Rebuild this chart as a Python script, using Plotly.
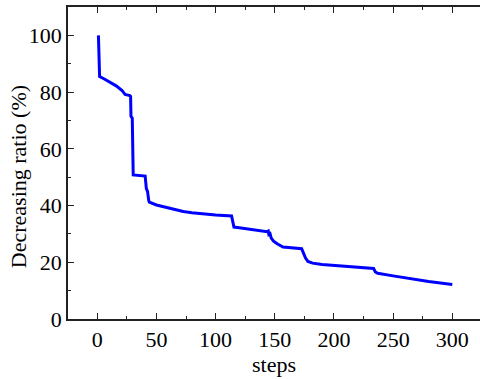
import plotly.graph_objects as go

steps = [1, 2, 6, 11, 16, 21, 23.5, 27.5, 28.2, 28.5, 29.6, 30.4, 35, 40.5, 41.5, 42.5, 43.5,
         44, 50, 60, 72.7, 80, 90, 100, 113.5, 114.5, 115.5, 120, 130, 140, 143.5, 144.5, 145,
         146, 147, 149, 152, 157, 165, 172.7, 174, 176, 178, 182, 190, 200, 208, 220, 232,
         233.5, 235, 237, 250, 264, 280, 290, 300]
ratio = [100, 85.5, 84.6, 83.4, 82.2, 80.5, 79.2, 78.8, 78.5, 71.5, 70.8, 50.8, 50.6, 50.4, 46, 45, 41.8,
         41.2, 40.2, 39.1, 37.9, 37.5, 37.0, 36.7, 36.3, 33.5, 32.4, 32.2, 31.6, 31.1, 30.8, 31.0, 29.8,
         30.1, 28.5, 27.4, 26.5, 25.4, 25.0, 24.8, 23.5, 21.5, 20.3, 19.7, 19.2, 18.9, 18.7, 18.4, 18.1,
         17.8, 16.6, 16.1, 15.2, 14.2, 13.2, 12.7, 12.2]

x_ticks = [0, 50, 100, 150, 200, 250, 300]
y_ticks = [0, 20, 40, 60, 80, 100]

font = dict(family="Liberation Serif", size=22, color="black")

fig = go.Figure()
fig.add_trace(go.Scatter(x=steps, y=ratio, mode="lines",
                         line=dict(color="#0000ff", width=3), showlegend=False))

fig.update_layout(
    width=480, height=379,
    margin=dict(l=68, r=0, t=7, b=60),
    plot_bgcolor="white", paper_bgcolor="white",
    font=font,
)
fig.update_xaxes(
    range=[-24.7, 323.4], tickvals=x_ticks, ticks="inside", ticklen=6, tickwidth=1,
    tickcolor="#222", showline=True, linecolor="#222", linewidth=1.5, mirror="ticks",
    showgrid=False, zeroline=False,
    minor=dict(dtick=25, tick0=0, ticks="inside", ticklen=3, tickcolor="#222", showgrid=False),
    title=dict(text="steps", font=font, standoff=0),
    tickfont=font,
)
fig.update_yaxes(
    range=[0, 110], tickvals=y_ticks, ticks="inside", ticklen=6, tickwidth=1,
    tickcolor="#222", showline=True, linecolor="#222", linewidth=1.5, mirror=False,
    showgrid=False, zeroline=False,
    minor=dict(dtick=10, tick0=0, ticks="inside", ticklen=3, tickcolor="#222", showgrid=False),
    tickfont=font,
)
fig.add_annotation(
    text="Decreasing ratio (%)", xref="paper", yref="paper",
    x=-0.121, y=0.455, xanchor="center", yanchor="middle",
    textangle=-90, showarrow=False, font=font,
)

fig.write_html("out.html", config={"displayModeBar": False},
               post_script="document.body.style.margin='0';document.body.style.overflow='hidden';")
